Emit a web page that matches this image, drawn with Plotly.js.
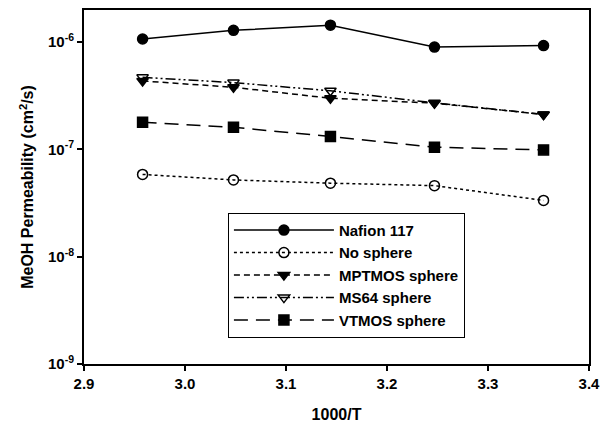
<!DOCTYPE html>
<html>
<head>
<meta charset="utf-8">
<script src="https://cdn.plot.ly/plotly-3.0.1.min.js"></script>
<style>html,body{margin:0;padding:0;background:#fff;}#chart{width:601px;height:433px;}</style>
</head>
<body>
<div id="chart"></div>
<script>
var xInvT = [2.958, 3.048, 3.144, 3.247, 3.355];
var seriesNames = ["Nafion 117", "No sphere", "MPTMOS sphere", "MS64 sphere", "VTMOS sphere"];
var nafion117 = [1.07e-6, 1.29e-6, 1.44e-6, 9.0e-7, 9.3e-7];
var noSphere = [5.85e-8, 5.2e-8, 4.85e-8, 4.6e-8, 3.35e-8];
var mptmosSphere = [4.35e-7, 3.8e-7, 3.0e-7, 2.7e-7, 2.12e-7];
var ms64Sphere = [4.7e-7, 4.2e-7, 3.52e-7, 2.72e-7, 2.12e-7];
var vtmosSphere = [1.79e-7, 1.61e-7, 1.32e-7, 1.05e-7, 9.9e-8];
var yTickVals = [1e-9, 1e-8, 1e-7, 1e-6];
var yTickText = ["10<sup>-9</sup>", "10<sup>-8</sup>", "10<sup>-7</sup>", "10<sup>-6</sup>"];
var xTickVals = [2.9, 3.0, 3.1, 3.2, 3.3, 3.4];
var xTickText = ["2.9", "3.0", "3.1", "3.2", "3.3", "3.4"];

var FONT = "Liberation Sans, Arial, sans-serif";
function tr(name, y, dash, symbol) {
  return {
    x: xInvT, y: y, name: name, type: "scatter", mode: "lines+markers",
    line: {color: "#000", width: 1.5, dash: dash},
    marker: {symbol: symbol, size: 10, color: "#000", line: {color: "#000", width: 1.5}}
  };
}
var data = [
  tr(seriesNames[0], nafion117, "solid", "circle"),
  tr(seriesNames[1], noSphere, "dot", "circle-open"),
  tr(seriesNames[2], mptmosSphere, "6px,4px", "triangle-down"),
  tr(seriesNames[3], ms64Sphere, "10px,3px,2px,3px,2px,3px", "triangle-down-open"),
  tr(seriesNames[4], vtmosSphere, "14px,8px", "square")
];
var layout = {
  width: 601, height: 433,
  margin: {l: 84, r: 12, t: 10, b: 69},
  paper_bgcolor: "#fff", plot_bgcolor: "#fff",
  font: {family: FONT, color: "#000", size: 15, weight: "bold"},
  showlegend: true,
  legend: {
    x: 0.285, y: 0.427, xanchor: "left", yanchor: "top",
    bordercolor: "#000", borderwidth: 1, bgcolor: "#fff",
    font: {family: FONT, size: 15, weight: "bold", color: "#000"},
    itemwidth: 100, tracegroupgap: 0
  },
  xaxis: {
    range: [2.9, 3.4], tickvals: xTickVals, ticktext: xTickText,
    ticks: "outside", ticklen: 5, tickwidth: 2, tickcolor: "#000",
    showline: true, linecolor: "#000", linewidth: 2, mirror: true,
    showgrid: false, zeroline: false,
    tickfont: {family: FONT, size: 15, weight: "bold"},
    title: {text: "1000/T", font: {family: FONT, size: 16, weight: "bold"}, standoff: 18}
  },
  yaxis: {
    type: "log", range: [-9, -5.7], tickvals: yTickVals, ticktext: yTickText,
    ticks: "outside", ticklen: 5, tickwidth: 2, tickcolor: "#000",
    showline: true, linecolor: "#000", linewidth: 2, mirror: true,
    showgrid: false, zeroline: false,
    tickfont: {family: FONT, size: 15, weight: "bold"},
    title: {text: "MeOH Permeability (cm<sup>2</sup>/s)", font: {family: FONT, size: 16, weight: "bold"}, standoff: 10}
  }
};
Plotly.newPlot("chart", data, layout, {staticPlot: true, displayModeBar: false});
</script>
</body>
</html>
